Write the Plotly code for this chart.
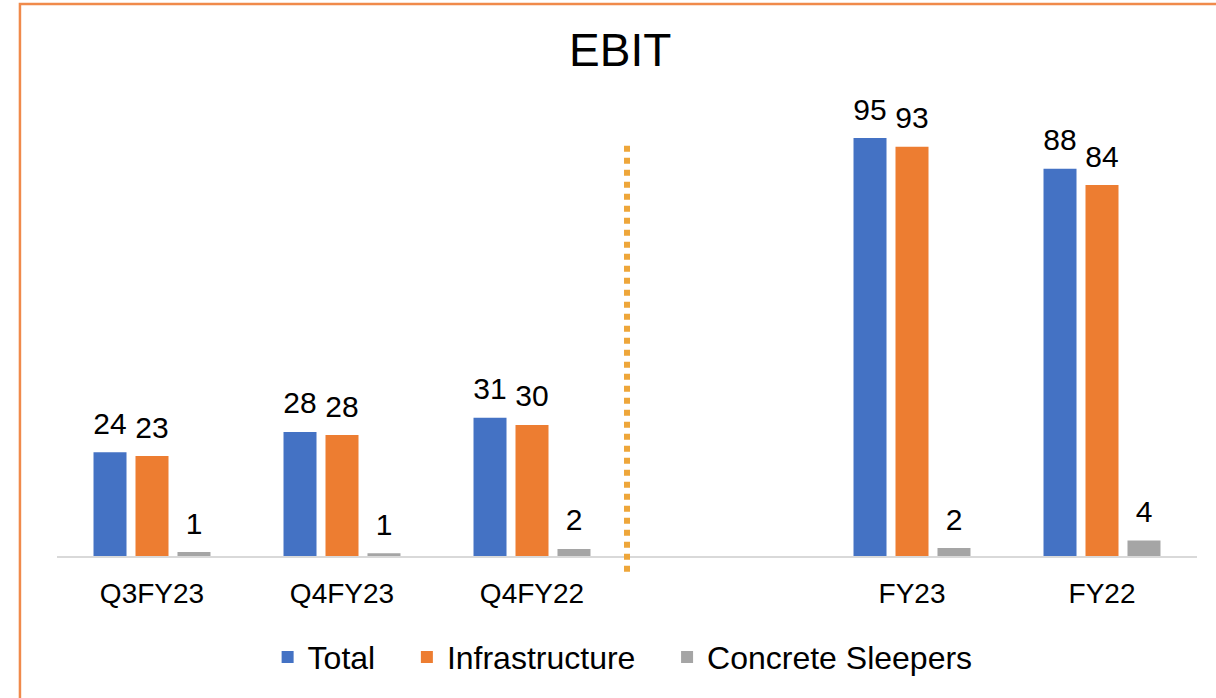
import plotly.graph_objects as go

categories = ["Q3FY23", "Q4FY23", "Q4FY22", "", "FY23", "FY22"]
total = [23.6, 28.2, 31.4, None, 95.0, 88.0]
infrastructure = [22.7, 27.5, 29.8, None, 93.0, 84.3]
concrete_sleepers = [0.9, 0.6, 1.6, None, 1.8, 3.5]

series = [
    ("Total", total, "#4472C4"),
    ("Infrastructure", infrastructure, "#ED7D31"),
    ("Concrete Sleepers", concrete_sleepers, "#A5A5A5"),
]

x = list(range(len(categories)))
FONT = "Liberation Sans, Arial, sans-serif"

fig = go.Figure()
for i, (name, vals, color) in enumerate(series):
    fig.add_trace(go.Bar(
        x=x, y=vals, name=name + "\u00a0\u00a0\u00a0",
        marker=dict(color=color, line=dict(width=0)),
        offsetgroup=str(i),
        hoverinfo="skip",
    ))
for i, (name, vals, color) in enumerate(series):
    fig.add_trace(go.Scatter(
        x=x, y=vals, mode="markers+text", showlegend=False,
        marker=dict(size=16, opacity=0),
        texttemplate="%{y:.0f}", textposition="top center",
        textfont=dict(family=FONT, size=30, color="#000000"),
        offsetgroup=str(i), cliponaxis=False, hoverinfo="skip",
    ))

# divider between quarterly and annual groups
divider_x = categories.index("") - 0.5

fig.update_layout(
    width=1216, height=698,
    margin=dict(l=57, r=19, t=116, b=142),
    paper_bgcolor="white", plot_bgcolor="white",
    barmode="group", bargap=0.337, bargroupgap=0.214,
    scattermode="group", scattergap=0.337,
    title=dict(text="EBIT", x=0.51, xanchor="center", y=0.928, yanchor="middle",
               font=dict(family=FONT, size=46, color="#000000")),
    xaxis=dict(range=[-0.5, len(categories) - 0.5], tickvals=x, ticktext=categories,
               showgrid=False, zeroline=False, showline=True, linecolor="#D9D9D9",
               linewidth=1.5, ticks="", ticklabelstandoff=12,
               tickfont=dict(family=FONT, size=28, color="#000000")),
    yaxis=dict(range=[0, 100], visible=False, showgrid=False, zeroline=False),
    legend=dict(orientation="h", x=0.508, xanchor="center", y=-0.23, yanchor="middle",
                font=dict(family=FONT, size=32, color="#000000"),
                itemwidth=30, traceorder="normal"),
    showlegend=True,
    hovermode=False,
    shapes=[
        dict(type="line", xref="x", yref="paper", x0=divider_x, x1=divider_x,
             y0=-0.036, y1=0.94, line=dict(color="#EEA63A", width=6, dash="6px,6px")),
        dict(type="rect", xref="paper", yref="paper", x0=-0.0325, x1=1.05,
             y0=-0.4, y1=1.2545, line=dict(color="#F08A4B", width=2.5),
             fillcolor="rgba(0,0,0,0)", layer="above"),
    ],
)

fig.write_html("out.html", config={"displayModeBar": False},
               post_script="document.body.style.margin='0px';")
